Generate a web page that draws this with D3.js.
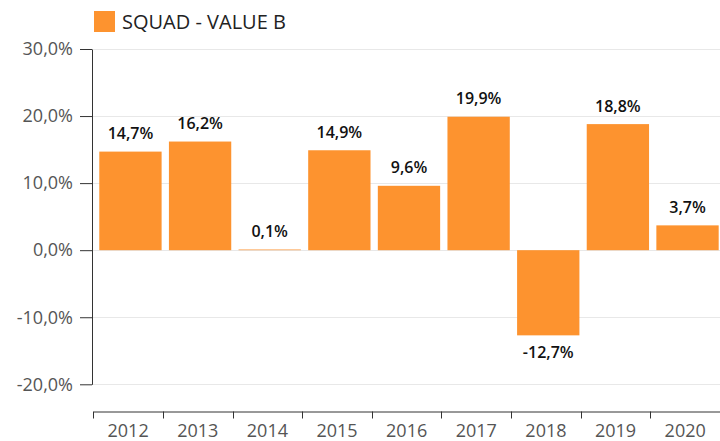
<!DOCTYPE html>
<html>
<head>
<meta charset="utf-8">
<script src="https://cdn.jsdelivr.net/npm/d3@7"></script>
<style>
  body { margin: 0; background: #fff; }
  svg { display: block; font-family: "Open Sans", sans-serif; }
</style>
</head>
<body>
<svg id="chart"></svg>
<script>
const years = ["2012", "2013", "2014", "2015", "2016", "2017", "2018", "2019", "2020"];
const valueB = [14.7, 16.2, 0.1, 14.9, 9.6, 19.9, -12.7, 18.8, 3.7];
const yTicks = [-20, -10, 0, 10, 20, 30];
const seriesName = "SQUAD - VALUE B";

const width = 720, height = 441;
const color = "#fd932f";

const locale = d3.formatLocale({ decimal: ",", thousands: ".", grouping: [3], currency: ["", ""], minus: "-" });
const fmt = locale.format(".1f");

const svg = d3.select("#chart").attr("width", width).attr("height", height);

const x = d3.scaleBand().domain(years).range([93.3, 720]).padding(0);
const y = d3.scaleLinear().domain([-20, 30]).range([384.3, 49]);

// gridlines
svg.append("g")
  .selectAll("line")
  .data(yTicks)
  .join("line")
  .attr("x1", 92).attr("x2", width)
  .attr("y1", d => Math.round(y(d)) + 0.5).attr("y2", d => Math.round(y(d)) + 0.5)
  .attr("stroke", "#e8e8e8");

// bars
const bw = x.bandwidth();
svg.append("g")
  .selectAll("rect")
  .data(valueB)
  .join("rect")
  .attr("x", (d, i) => x(years[i]) + bw * 0.086)
  .attr("width", bw * 0.895)
  .attr("y", d => y(Math.max(0, d)))
  .attr("height", d => Math.abs(y(d) - y(0)))
  .attr("fill", color);

// value labels
svg.append("g")
  .selectAll("text")
  .data(valueB)
  .join("text")
  .attr("x", (d, i) => x(years[i]) + bw * 0.086 + bw * 0.895 / 2)
  .attr("y", d => d >= 0 ? y(d) - 12.5 : y(d) + 23)
  .attr("text-anchor", "middle")
  .attr("font-size", 16)
  .attr("font-weight", 600)
  .attr("fill", "#111")
  .text(d => fmt(d) + "%");

// y axis
const yAxis = svg.append("g")
  .attr("transform", "translate(92,0)")
  .call(d3.axisLeft(y).tickValues(yTicks).tickSize(12).tickSizeOuter(0).tickPadding(7).tickFormat(d => fmt(d) + "%"));
yAxis.select(".domain").attr("stroke", "#333");
yAxis.selectAll(".tick line").attr("stroke", "#333");
yAxis.selectAll("text").attr("font-size", 18).attr("fill", "#555").attr("font-family", "Open Sans");

// x axis
const xAxis = svg.append("g")
  .attr("transform", "translate(0,411.5)")
  .call(d3.axisBottom(x).tickSize(0).tickPadding(13));
xAxis.select(".domain").attr("stroke", "#333");
xAxis.selectAll("text").attr("font-size", 18).attr("fill", "#555").attr("font-family", "Open Sans");
xAxis.selectAll(".bound")
  .data(years)
  .join("line")
  .attr("class", "bound")
  .attr("x1", d => Math.round(x(d)) + 0.5).attr("x2", d => Math.round(x(d)) + 0.5)
  .attr("y1", 0).attr("y2", 7)
  .attr("stroke", "#333");

// legend
const legend = svg.append("g").attr("transform", "translate(94,11)");
legend.append("rect").attr("width", 21).attr("height", 21).attr("fill", color);
legend.append("text")
  .attr("x", 28).attr("y", 18.3)
  .attr("font-size", 20)
  .attr("fill", "#222")
  .text(seriesName);
</script>
</body>
</html>
